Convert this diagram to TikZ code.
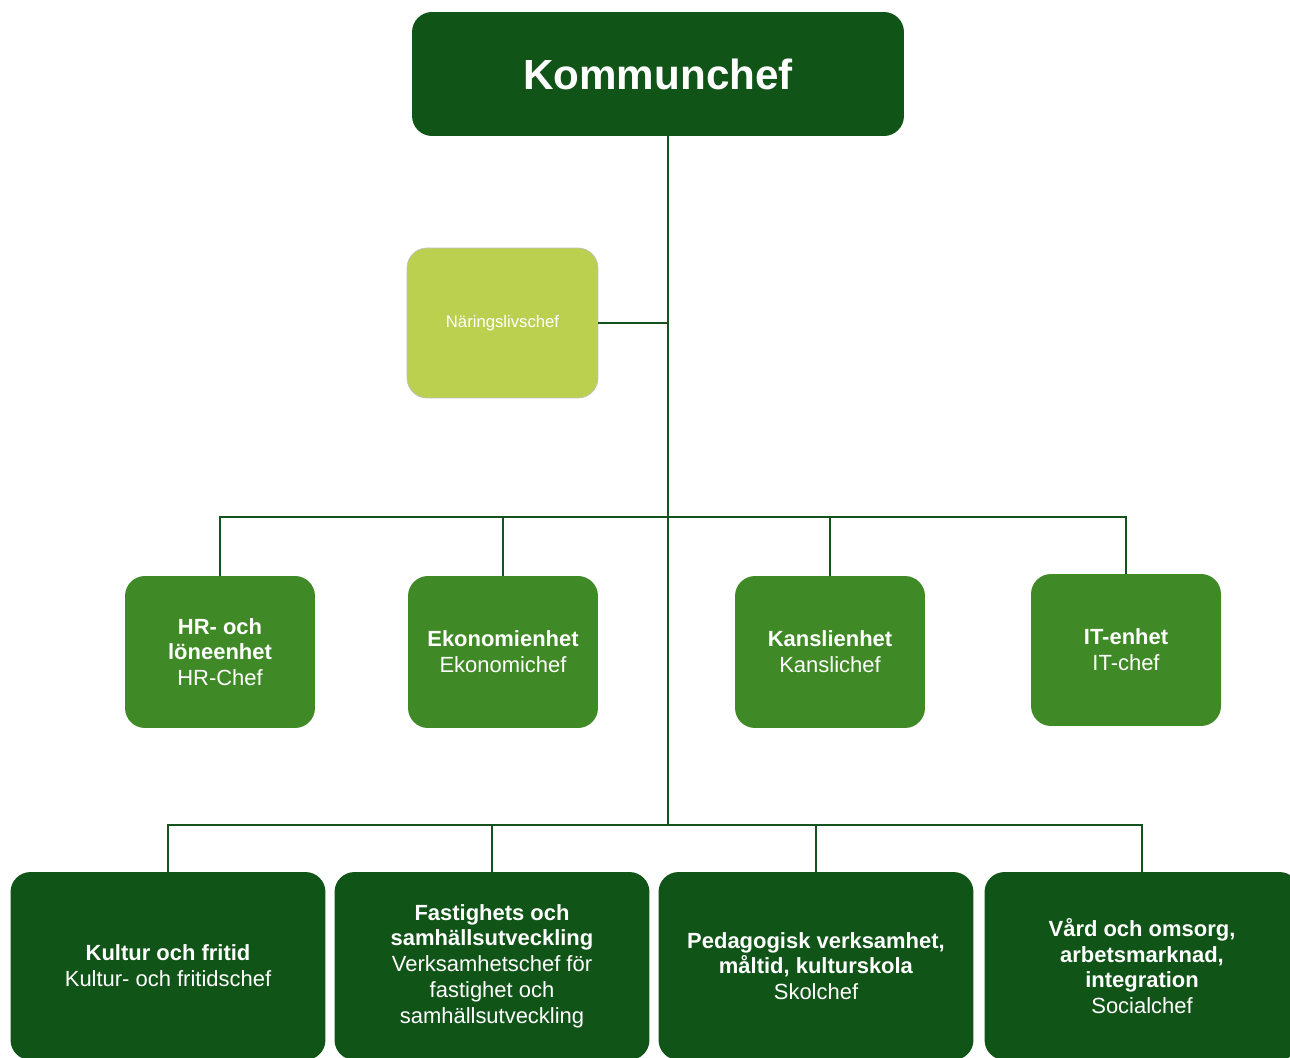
\documentclass[tikz,border=0pt]{standalone}
\usepackage{fontspec}
\setmainfont{Liberation Sans}
\usepackage{xcolor}
\definecolor{darkgreen}{RGB}{17,84,24}
\definecolor{midgreen}{RGB}{63,138,38}
\definecolor{lightgreen}{RGB}{188,208,80}
\definecolor{linegreen}{RGB}{22,82,30}

\begin{document}
\begin{tikzpicture}[x=0.02cm,y=-0.02cm,
                    box/.style={rounded corners=0.4cm, text=white, align=center, inner sep=2pt,
                                font=\fontsize{12.5}{14.7}\selectfont},
                    topbox/.style={box, fill=darkgreen, minimum width=9.84cm, minimum height=2.48cm,
                                font=\fontsize{24}{28}\selectfont\bfseries},
                    staffbox/.style={box, fill=lightgreen, draw=black!25, minimum width=3.82cm, minimum height=3cm,
                                font=\fontsize{9.5}{11}\selectfont},
                    unitbox/.style={box, fill=midgreen, minimum width=3.8cm, minimum height=3.04cm},
                    deptbox/.style={box, fill=darkgreen, minimum width=6.3cm, minimum height=3.76cm},
                    line/.style={draw=linegreen, line width=1.2pt}]
    \useasboundingbox (0,0) rectangle (1290,1057);
    % boxes
    \node[topbox] (chef) at (658,74) {Kommunchef};
    \node[staffbox] (naring) at (502.5,323) {Näringslivschef};
    \node[unitbox] (hr) at (220,652) {\textbf{HR- och}\\\textbf{löneenhet}\\HR-Chef};
    \node[unitbox] (eko) at (503,652) {\textbf{Ekonomienhet}\\Ekonomichef};
    \node[unitbox] (kansli) at (830,652) {\textbf{Kanslienhet}\\Kanslichef};
    \node[unitbox] (it) at (1126,650) {\textbf{IT-enhet}\\IT-chef};
    \node[deptbox] (kultur) at (168,966) {\textbf{Kultur och fritid}\\Kultur- och fritidschef};
    \node[deptbox] (fastighet) at (492,966) {\textbf{Fastighets och}\\\textbf{samhällsutveckling}\\Verksamhetschef för\\fastighet och\\samhällsutveckling};
    \node[deptbox] (pedagogik) at (816,966) {\textbf{Pedagogisk verksamhet,}\\\textbf{måltid, kulturskola}\\Skolchef};
    \node[deptbox] (vard) at (1142,966) {\textbf{Vård och omsorg,}\\\textbf{arbetsmarknad,}\\\textbf{integration}\\Socialchef};
    % connectors
    \coordinate (bus2) at (668,517);
    \coordinate (bus3) at (668,825);
    \draw[line] (chef.south -| bus2) -- (bus3);
    \draw[line] (naring) -- (naring -| bus2);
    \draw[line] (hr) |- (bus2) -| (it);
    \draw[line] (eko) -- (eko |- bus2);
    \draw[line] (kansli) -- (kansli |- bus2);
    \draw[line] (kultur) |- (bus3) -| (vard);
    \draw[line] (fastighet) -- (fastighet |- bus3);
    \draw[line] (pedagogik) -- (pedagogik |- bus3);
\end{tikzpicture}
\end{document}
